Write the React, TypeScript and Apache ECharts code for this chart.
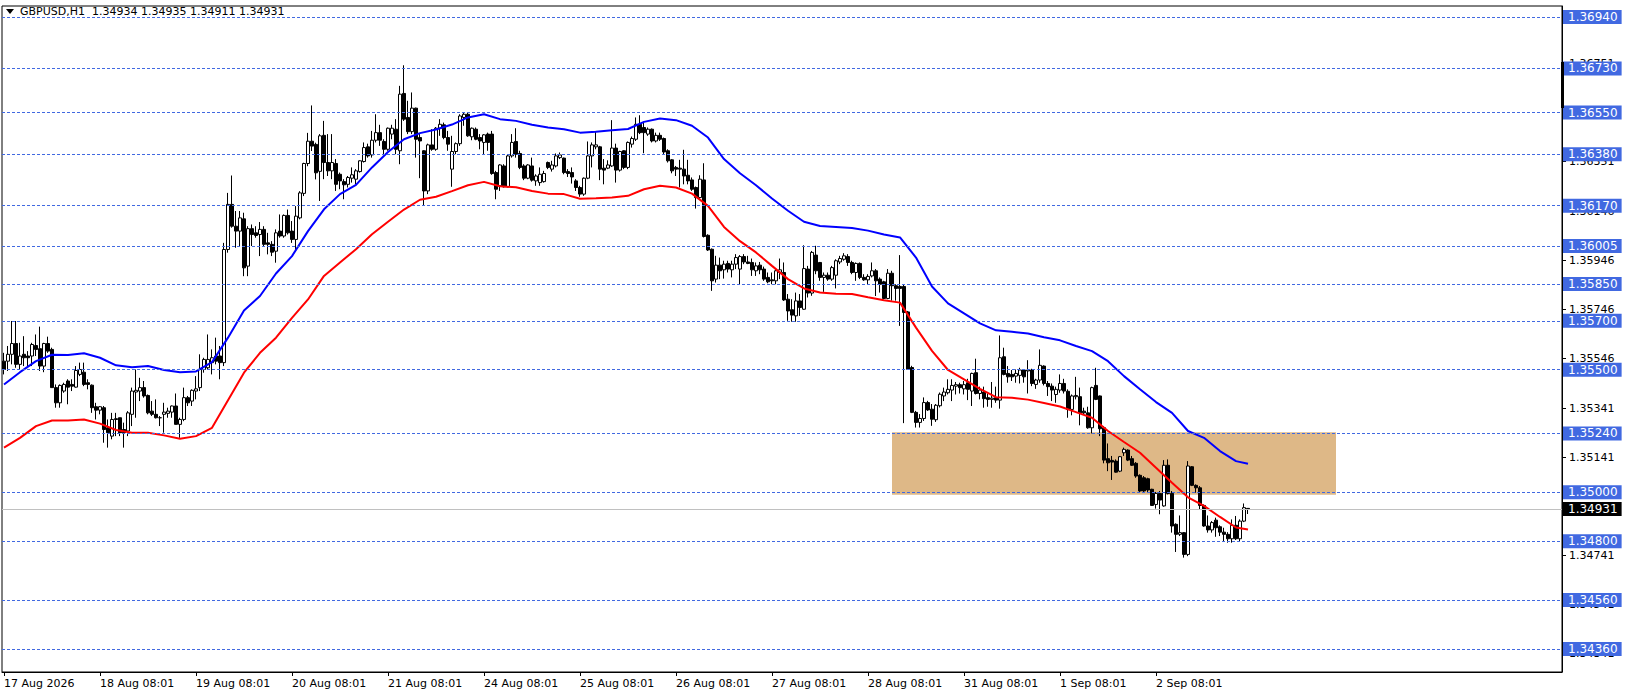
import React, { useEffect, useRef } from "react";
import * as echarts from "echarts";

const titleText = "GBPUSD,H1  1.34934 1.34935 1.34911 1.34931";
const dateLabels = ["17 Aug 2026", "18 Aug 08:01", "19 Aug 08:01", "20 Aug 08:01", "21 Aug 08:01", "24 Aug 08:01", "25 Aug 08:01", "26 Aug 08:01", "27 Aug 08:01", "28 Aug 08:01", "31 Aug 08:01", "1 Sep 08:01", "2 Sep 08:01"];
const barsPerDay = 24;
const totalSlots = 390;

// [open, high, low, close]
const ohlc: number[][] = [
[1.35535,1.35569,1.35481,1.35501],[1.35535,1.35597,1.35495,1.35563],[1.35563,1.35699,1.35522,1.35607],[1.35607,1.35699,1.35508,1.35522],
[1.35522,1.35610,1.35501,1.35556],[1.35563,1.35637,1.35515,1.35549],[1.35556,1.35576,1.35515,1.35549],[1.35556,1.35610,1.35515,1.35603],
[1.35599,1.35644,1.35556,1.35583],[1.35586,1.35676,1.35495,1.35515],[1.35515,1.35610,1.35490,1.35607],[1.35607,1.35635,1.35569,1.35576],
[1.35583,1.35590,1.35427,1.35427],[1.35427,1.35440,1.35345,1.35365],[1.35365,1.35440,1.35345,1.35436],[1.35413,1.35447,1.35406,1.35440],
[1.35454,1.35461,1.35359,1.35429],[1.35440,1.35461,1.35413,1.35433],[1.35429,1.35515,1.35427,1.35497],[1.35481,1.35529,1.35474,1.35501],
[1.35490,1.35529,1.35433,1.35440],[1.35447,1.35461,1.35420,1.35440],[1.35437,1.35440,1.35324,1.35345],[1.35349,1.35365,1.35297,1.35335],
[1.35335,1.35352,1.35318,1.35349],[1.35345,1.35352,1.35202,1.35256],[1.35263,1.35297,1.35182,1.35243],[1.35229,1.35324,1.35216,1.35297],
[1.35300,1.35324,1.35229,1.35297],[1.35304,1.35304,1.35229,1.35243],[1.35256,1.35284,1.35182,1.35243],[1.35250,1.35331,1.35229,1.35324],
[1.35318,1.35427,1.35270,1.35413],[1.35409,1.35501,1.35304,1.35416],[1.35413,1.35467,1.35372,1.35427],[1.35427,1.35454,1.35386,1.35393],
[1.35395,1.35399,1.35318,1.35324],[1.35331,1.35372,1.35311,1.35318],[1.35318,1.35379,1.35301,1.35304],[1.35304,1.35311,1.35270,1.35304],
[1.35318,1.35365,1.35243,1.35327],[1.35322,1.35345,1.35304,1.35331],[1.35327,1.35354,1.35304,1.35352],[1.35352,1.35403,1.35277,1.35277],
[1.35277,1.35304,1.35222,1.35297],[1.35297,1.35427,1.35290,1.35386],[1.35386,1.35393,1.35352,1.35365],[1.35372,1.35420,1.35352,1.35416],
[1.35413,1.35474,1.35379,1.35422],[1.35427,1.35563,1.35413,1.35501],[1.35501,1.35549,1.35488,1.35542],[1.35508,1.35644,1.35501,1.35542],
[1.35529,1.35583,1.35481,1.35549],[1.35556,1.35631,1.35522,1.35535],[1.35556,1.35597,1.35461,1.35529],[1.35529,1.36018,1.35515,1.35991],
[1.35991,1.36222,1.35978,1.36175],[1.36175,1.36293,1.36080,1.36086],[1.36086,1.36148,1.35998,1.36066],[1.36066,1.36148,1.36005,1.36120],
[1.36116,1.36141,1.35882,1.35916],[1.35923,1.36086,1.35882,1.36076],[1.36076,1.36093,1.36005,1.36052],[1.36059,1.36086,1.36039,1.36048],
[1.36052,1.36103,1.35964,1.36073],[1.36073,1.36086,1.36005,1.36012],[1.36018,1.36059,1.35971,1.36012],[1.36012,1.36025,1.35964,1.35980],
[1.35984,1.36073,1.35937,1.36059],[1.36066,1.36134,1.36039,1.36046],[1.36046,1.36134,1.36039,1.36130],[1.36130,1.36154,1.36052,1.36059],
[1.36066,1.36107,1.36018,1.36032],[1.36032,1.36168,1.35984,1.36127],[1.36120,1.36229,1.36114,1.36222],[1.36220,1.36345,1.36209,1.36342],
[1.36342,1.36467,1.36331,1.36433],[1.36433,1.36579,1.36393,1.36413],[1.36420,1.36427,1.36277,1.36304],[1.36310,1.36462,1.36189,1.36455],
[1.36457,1.36516,1.36278,1.36346],[1.36346,1.36462,1.36291,1.36312],[1.36312,1.36462,1.36278,1.36346],[1.36342,1.36360,1.36230,1.36257],
[1.36298,1.36305,1.36237,1.36271],[1.36268,1.36278,1.36196,1.36255],[1.36257,1.36291,1.36244,1.36285],[1.36282,1.36326,1.36264,1.36296],
[1.36278,1.36319,1.36257,1.36312],[1.36309,1.36355,1.36305,1.36353],[1.36350,1.36428,1.36346,1.36407],[1.36410,1.36423,1.36366,1.36373],
[1.36377,1.36475,1.36366,1.36437],[1.36437,1.36543,1.36428,1.36468],[1.36468,1.36500,1.36414,1.36437],[1.36432,1.36441,1.36380,1.36400],
[1.36400,1.36489,1.36394,1.36486],[1.36462,1.36500,1.36441,1.36486],[1.36482,1.36523,1.36380,1.36400],[1.36394,1.36659,1.36339,1.36625],
[1.36628,1.36743,1.36516,1.36523],[1.36530,1.36598,1.36462,1.36472],[1.36472,1.36632,1.36462,1.36568],[1.36568,1.36570,1.36366,1.36441],
[1.36448,1.36462,1.36282,1.36434],[1.36394,1.36396,1.36169,1.36230],[1.36230,1.36423,1.36217,1.36418],[1.36418,1.36482,1.36394,1.36400],
[1.36400,1.36491,1.36394,1.36486],[1.36486,1.36523,1.36455,1.36502],[1.36500,1.36509,1.36441,1.36448],[1.36448,1.36475,1.36394,1.36421],
[1.36319,1.36455,1.36247,1.36391],[1.36391,1.36428,1.36380,1.36423],[1.36423,1.36543,1.36414,1.36536],[1.36530,1.36550,1.36496,1.36543],
[1.36543,1.36550,1.36451,1.36455],[1.36451,1.36489,1.36437,1.36486],[1.36482,1.36489,1.36437,1.36441],[1.36448,1.36462,1.36400,1.36434],
[1.36428,1.36462,1.36380,1.36459],[1.36462,1.36468,1.36394,1.36428],[1.36462,1.36475,1.36296,1.36301],[1.36305,1.36312,1.36196,1.36237],
[1.36251,1.36339,1.36230,1.36336],[1.36332,1.36339,1.36244,1.36247],[1.36247,1.36380,1.36244,1.36373],[1.36373,1.36462,1.36366,1.36428],
[1.36432,1.36486,1.36366,1.36380],[1.36383,1.36394,1.36319,1.36326],[1.36332,1.36339,1.36274,1.36282],[1.36282,1.36339,1.36278,1.36336],
[1.36332,1.36366,1.36268,1.36274],[1.36271,1.36298,1.36251,1.36291],[1.36264,1.36326,1.36251,1.36298],[1.36268,1.36312,1.36264,1.36301],
[1.36346,1.36350,1.36319,1.36326],[1.36319,1.36353,1.36309,1.36336],[1.36332,1.36383,1.36326,1.36373],[1.36366,1.36387,1.36360,1.36377],
[1.36364,1.36366,1.36298,1.36305],[1.36309,1.36319,1.36287,1.36301],[1.36305,1.36326,1.36260,1.36287],[1.36271,1.36278,1.36230,1.36244],
[1.36244,1.36251,1.36206,1.36217],[1.36217,1.36285,1.36210,1.36282],[1.36282,1.36432,1.36278,1.36373],[1.36373,1.36428,1.36326,1.36418],
[1.36410,1.36475,1.36400,1.36418],[1.36410,1.36414,1.36274,1.36319],[1.36323,1.36360,1.36257,1.36315],[1.36323,1.36355,1.36319,1.36336],
[1.36332,1.36519,1.36328,1.36405],[1.36405,1.36423,1.36264,1.36315],[1.36315,1.36394,1.36309,1.36391],[1.36394,1.36396,1.36319,1.36326],
[1.36326,1.36432,1.36319,1.36428],[1.36421,1.36452,1.36407,1.36444],[1.36441,1.36530,1.36434,1.36502],[1.36502,1.36539,1.36462,1.36468],
[1.36489,1.36512,1.36384,1.36468],[1.36462,1.36489,1.36455,1.36482],[1.36482,1.36485,1.36428,1.36434],[1.36434,1.36468,1.36428,1.36457],
[1.36457,1.36468,1.36434,1.36441],[1.36444,1.36448,1.36380,1.36389],[1.36394,1.36400,1.36346,1.36353],[1.36357,1.36360,1.36302,1.36312],
[1.36326,1.36332,1.36291,1.36319],[1.36323,1.36357,1.36244,1.36319],[1.36319,1.36398,1.36257,1.36291],[1.36294,1.36357,1.36257,1.36271],
[1.36275,1.36285,1.36230,1.36237],[1.36244,1.36248,1.36158,1.36203],[1.36203,1.36294,1.36196,1.36278],[1.36275,1.36343,1.36040,1.36044],
[1.36049,1.36053,1.35985,1.35989],[1.35992,1.35995,1.35822,1.35863],[1.35870,1.35965,1.35856,1.35927],[1.35927,1.35958,1.35870,1.35904],
[1.35908,1.35945,1.35872,1.35931],[1.35934,1.35945,1.35897,1.35911],[1.35908,1.35945,1.35877,1.35931],[1.35931,1.35972,1.35911,1.35958],
[1.35911,1.35968,1.35849,1.35962],[1.35962,1.35972,1.35931,1.35940],[1.35940,1.35965,1.35931,1.35934],[1.35938,1.35954,1.35883,1.35908],
[1.35904,1.35938,1.35883,1.35924],[1.35927,1.35940,1.35890,1.35908],[1.35911,1.35921,1.35863,1.35870],[1.35877,1.35897,1.35853,1.35859],
[1.35867,1.35897,1.35849,1.35863],[1.35863,1.35911,1.35849,1.35904],[1.35897,1.35954,1.35870,1.35908],[1.35897,1.35938,1.35781,1.35785],
[1.35788,1.35809,1.35700,1.35740],[1.35745,1.35788,1.35696,1.35723],[1.35720,1.35815,1.35696,1.35781],[1.35781,1.35809,1.35720,1.35754],
[1.35747,1.36008,1.35745,1.35913],[1.35911,1.35924,1.35795,1.35813],[1.35813,1.35985,1.35802,1.35979],[1.35968,1.36006,1.35890,1.35904],
[1.35938,1.35940,1.35863,1.35877],[1.35877,1.35897,1.35818,1.35886],[1.35886,1.35897,1.35863,1.35870],[1.35870,1.35924,1.35863,1.35917],
[1.35886,1.35951,1.35832,1.35945],[1.35940,1.35965,1.35931,1.35954],[1.35951,1.35976,1.35945,1.35965],[1.35962,1.35972,1.35924,1.35938],
[1.35938,1.35945,1.35890,1.35897],[1.35897,1.35938,1.35863,1.35934],[1.35934,1.35938,1.35870,1.35877],[1.35877,1.35890,1.35863,1.35867],
[1.35867,1.35890,1.35849,1.35881],[1.35883,1.35938,1.35877,1.35904],[1.35904,1.35911,1.35801,1.35863],[1.35870,1.35877,1.35815,1.35849],
[1.35859,1.35863,1.35788,1.35791],[1.35791,1.35911,1.35788,1.35894],[1.35894,1.35904,1.35782,1.35843],[1.35843,1.35849,1.35782,1.35832],
[1.35840,1.35968,1.35679,1.35832],[1.35840,1.35849,1.35282,1.35734],[1.35736,1.35740,1.35500,1.35502],[1.35509,1.35516,1.35323,1.35326],
[1.35326,1.35332,1.35264,1.35285],[1.35285,1.35319,1.35264,1.35301],[1.35301,1.35387,1.35291,1.35366],[1.35366,1.35373,1.35332,1.35336],
[1.35339,1.35360,1.35271,1.35298],[1.35296,1.35360,1.35287,1.35355],[1.35353,1.35407,1.35346,1.35400],[1.35393,1.35427,1.35372,1.35409],
[1.35406,1.35461,1.35399,1.35420],[1.35417,1.35461,1.35372,1.35436],[1.35433,1.35450,1.35399,1.35439],[1.35439,1.35447,1.35403,1.35427],
[1.35422,1.35454,1.35399,1.35439],[1.35447,1.35463,1.35376,1.35420],[1.35413,1.35488,1.35352,1.35485],[1.35488,1.35545,1.35399,1.35403],
[1.35403,1.35431,1.35379,1.35417],[1.35409,1.35431,1.35345,1.35382],[1.35386,1.35403,1.35349,1.35379],[1.35379,1.35450,1.35345,1.35384],
[1.35386,1.35431,1.35365,1.35376],[1.35376,1.35640,1.35341,1.35549],[1.35553,1.35590,1.35477,1.35481],[1.35485,1.35515,1.35447,1.35471],
[1.35481,1.35499,1.35454,1.35471],[1.35474,1.35501,1.35447,1.35485],[1.35477,1.35508,1.35444,1.35499],[1.35499,1.35501,1.35447,1.35471],
[1.35495,1.35539,1.35403,1.35499],[1.35499,1.35504,1.35433,1.35444],[1.35440,1.35463,1.35422,1.35458],[1.35458,1.35583,1.35447,1.35518],
[1.35515,1.35518,1.35436,1.35444],[1.35444,1.35454,1.35393,1.35431],[1.35433,1.35444,1.35372,1.35417],[1.35399,1.35431,1.35365,1.35420],
[1.35417,1.35481,1.35406,1.35444],[1.35444,1.35463,1.35403,1.35413],[1.35412,1.35420,1.35304,1.35338],[1.35338,1.35399,1.35314,1.35393],
[1.35390,1.35471,1.35379,1.35395],[1.35390,1.35427,1.35273,1.35324],[1.35331,1.35345,1.35318,1.35324],[1.35324,1.35349,1.35259,1.35263],
[1.35263,1.35431,1.35240,1.35427],[1.35436,1.35508,1.35376,1.35379],[1.35393,1.35395,1.35229,1.35259],[1.35263,1.35270,1.35118,1.35131],
[1.35137,1.35199,1.35086,1.35120],[1.35130,1.35148,1.35050,1.35123],[1.35127,1.35134,1.35080,1.35082],[1.35086,1.35148,1.35082,1.35145],
[1.35161,1.35182,1.35148,1.35175],[1.35172,1.35175,1.35127,1.35131],[1.35137,1.35148,1.35107,1.35110],[1.35118,1.35123,1.35059,1.35066],
[1.35069,1.35073,1.35001,1.35005],[1.35059,1.35066,1.35001,1.35005],[1.35055,1.35059,1.34998,1.35009],[1.35012,1.35014,1.34944,1.34946],
[1.34950,1.35001,1.34933,1.34995],[1.34995,1.35005,1.34910,1.34968],[1.34944,1.35131,1.34941,1.35110],[1.35110,1.35134,1.34991,1.34995],
[1.34995,1.35005,1.34835,1.34862],[1.34869,1.34873,1.34756,1.34828],[1.34828,1.34905,1.34821,1.34835],[1.34835,1.34837,1.34733,1.34746],
[1.34746,1.35127,1.34739,1.35107],[1.35104,1.35107,1.35025,1.35028],[1.35028,1.35032,1.34998,1.35018],[1.35018,1.35025,1.34930,1.34946],
[1.34946,1.34950,1.34859,1.34862],[1.34862,1.34905,1.34835,1.34846],[1.34846,1.34882,1.34835,1.34876],[1.34886,1.34896,1.34818,1.34855],
[1.34859,1.34865,1.34821,1.34837],[1.34837,1.34855,1.34797,1.34828],[1.34828,1.34837,1.34794,1.34810],[1.34810,1.34889,1.34794,1.34865],
[1.34865,1.34903,1.34805,1.34810],[1.34810,1.34889,1.34797,1.34882],[1.34882,1.34954,1.34878,1.34937],[1.34934,1.34935,1.34911,1.34931]
];

const maIndex = [0,4,8,12,16,20,24,28,32,36,40,44,48,52,56,60,64,68,72,76,80,84,88,92,96,100,104,108,112,116,120,124,128,132,136,140,144,148,152,156,160,164,168,172,176,180,184,188,192,196,200,204,208,212,216,220,224,228,232,236,240,244,248,252,256,260,264,268,272,276,280,284,288,292,296,300,304,308,311];
const blueMA = [1.35440,1.35490,1.35535,1.35561,1.35560,1.35567,1.35549,1.35518,1.35510,1.35515,1.35499,1.35490,1.35493,1.35531,1.35631,1.35742,1.35801,1.35893,1.35964,1.36066,1.36155,1.36217,1.36255,1.36326,1.36389,1.36441,1.36466,1.36481,1.36501,1.36530,1.36543,1.36523,1.36516,1.36500,1.36489,1.36482,1.36468,1.36472,1.36478,1.36483,1.36512,1.36526,1.36519,1.36496,1.36448,1.36360,1.36302,1.36253,1.36199,1.36149,1.36104,1.36087,1.36083,1.36079,1.36068,1.36052,1.36040,1.35958,1.35840,1.35771,1.35730,1.35689,1.35661,1.35655,1.35648,1.35633,1.35620,1.35597,1.35576,1.35535,1.35474,1.35420,1.35368,1.35324,1.35250,1.35222,1.35168,1.35127,1.35116];
const redMA = [1.35182,1.35222,1.35270,1.35293,1.35293,1.35297,1.35280,1.35254,1.35243,1.35243,1.35232,1.35218,1.35229,1.35263,1.35375,1.35488,1.35569,1.35631,1.35712,1.35787,1.35883,1.35938,1.35992,1.36053,1.36104,1.36154,1.36194,1.36206,1.36229,1.36253,1.36267,1.36249,1.36245,1.36230,1.36219,1.36217,1.36198,1.36200,1.36203,1.36210,1.36237,1.36251,1.36244,1.36219,1.36169,1.36083,1.36025,1.35979,1.35924,1.35870,1.35832,1.35815,1.35810,1.35809,1.35796,1.35784,1.35774,1.35672,1.35577,1.35499,1.35461,1.35422,1.35388,1.35386,1.35378,1.35364,1.35350,1.35327,1.35304,1.35250,1.35205,1.35161,1.35100,1.35039,1.34979,1.34944,1.34899,1.34856,1.34848];

const levels = [1.3694, 1.3673, 1.3655, 1.3638, 1.3617, 1.36005, 1.3585, 1.357, 1.355, 1.3524, 1.35, 1.348, 1.3456, 1.3436];
const bidPrice = 1.34931;
const priceTicks = [1.36951, 1.36751, 1.36551, 1.36351, 1.36146, 1.35946, 1.35746, 1.35546, 1.35341, 1.35141, 1.34941, 1.34741, 1.34541, 1.34341];
const zoneBars = [222, 333];
const zonePrices = [1.35245, 1.3499];
const yRange = [1.34266, 1.36985];

const FONT = "DejaVu Sans";

export default function App() {
  const ref = useRef<HTMLDivElement>(null);
  useEffect(() => {
    document.body.style.margin = "0";
    const chart = echarts.init(ref.current!, null, { renderer: "svg" });
    const categories = Array.from({ length: totalSlots }, (_, i) =>
      i % barsPerDay === 0 && i / barsPerDay < dateLabels.length ? dateLabels[i / barsPerDay] : "b" + i
    );
    const showLabel = (i: number) => i % barsPerDay === 0 && i / barsPerDay < dateLabels.length;
    const option: any = {
      animation: false,
      backgroundColor: "#fff",
      textStyle: { fontFamily: FONT },
      grid: { left: 2, right: 64, top: 6, bottom: 24, show: true, borderColor: "#000", borderWidth: 1, backgroundColor: "#fff" },
      xAxis: {
        type: "category",
        data: categories,
        boundaryGap: true,
        axisLine: { show: true, lineStyle: { color: "#000", width: 1 } },
        axisTick: { show: true, interval: (i: number) => showLabel(i), alignWithLabel: true, length: 4, lineStyle: { color: "#000" } },
        axisLabel: { show: true, interval: (i: number) => showLabel(i), align: "left", margin: 6, color: "#000", fontSize: 11, fontFamily: FONT },
        splitLine: { show: false },
      },
      yAxis: {
        type: "value",
        position: "right",
        min: yRange[0],
        max: yRange[1],
        scale: true,
        axisLine: { show: true, lineStyle: { color: "#000", width: 1 } },
        axisTick: { show: true, customValues: priceTicks, length: 4, lineStyle: { color: "#000" } },
        axisLabel: { show: true, customValues: priceTicks, formatter: (v: number) => v.toFixed(5), margin: 7, color: "#000", fontSize: 11, fontFamily: FONT },
        splitLine: { show: false },
      },
      graphic: [
        { type: "polygon", shape: { points: [[6, 9], [14, 9], [10, 14]] }, style: { fill: "#000" } },
        { type: "text", left: 20, top: 6, style: { text: titleText, fill: "#000", font: `11px "${FONT}"` } },
        { type: "rect", shape: { x: 1561, y: 62, width: 3, height: 46 }, style: { fill: "#000" }, z: 100 },
      ],
      series: [
        {
          type: "line",
          data: [],
          z: 1,
          markArea: {
            silent: true,
            itemStyle: { color: "#DEB887", opacity: 1 },
            data: [[{ xAxis: zoneBars[0], yAxis: zonePrices[0] }, { xAxis: zoneBars[1], yAxis: zonePrices[1] }]],
          },
        },
        {
          type: "line",
          data: [],
          z: 2,
          markLine: {
            silent: true,
            symbol: ["none", "none"],
            precision: 5,
            data: [
              ...levels.map((v) => ({
                yAxis: v,
                lineStyle: { color: "#4169E1", type: [3, 2], width: 1 },
                label: { backgroundColor: "#4169E1", color: "#fff" },
              })),
              {
                yAxis: bidPrice,
                lineStyle: { color: "#C0C0C0", type: "solid", width: 1 },
                label: { backgroundColor: "#000", color: "#fff" },
              },
            ],
            label: {
              show: true,
              position: "end",
              distance: 1,
              formatter: (p: any) => Number(p.value).toFixed(5),
              fontSize: 12,
              fontFamily: FONT,
              padding: [1, 4, 1, 5],
            },
          },
        },
        {
          type: "candlestick",
          data: ohlc.map(([o, h, l, c]) => [o, c, l, h]),
          barWidth: 3,
          barMinWidth: 3,
          z: 3,
          itemStyle: { color: "#fff", color0: "#000", borderColor: "#000", borderColor0: "#000", borderWidth: 1 },
        },
        {
          type: "line",
          data: maIndex.map((x, k) => [x, blueMA[k]]),
          symbol: "none",
          z: 4,
          lineStyle: { color: "#0000FF", width: 2 },
        },
        {
          type: "line",
          data: maIndex.map((x, k) => [x, redMA[k]]),
          symbol: "none",
          z: 4,
          lineStyle: { color: "#FF0000", width: 2 },
        },
      ],
    };
    chart.setOption(option);
    return () => chart.dispose();
  }, []);
  return <div ref={ref} style={{ width: 1626, height: 696 }} />;
}
